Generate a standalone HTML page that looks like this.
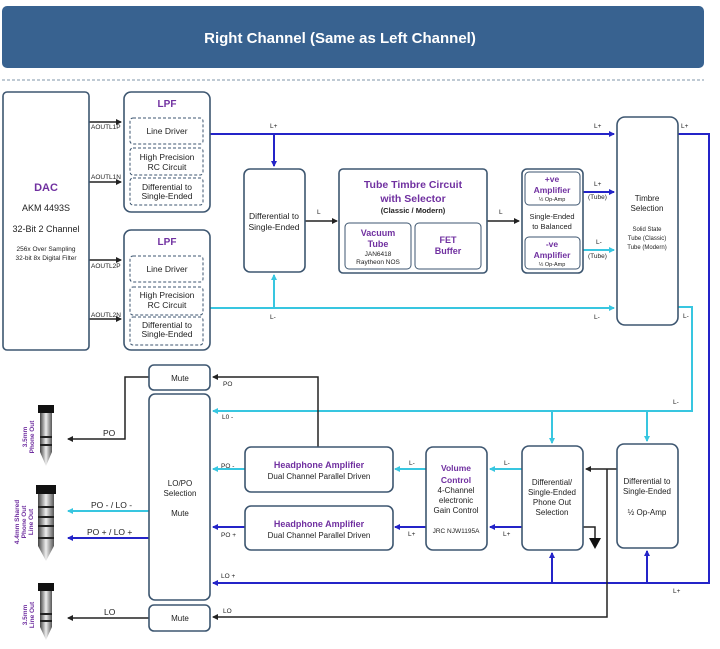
<!DOCTYPE html>
<html><head><meta charset="utf-8"><style>
html,body{margin:0;padding:0;background:#fff;width:720px;height:649px;overflow:hidden}
svg{display:block;font-family:"Liberation Sans",Arial,sans-serif}
.b{fill:#fff;stroke:#3d5670;stroke-width:1.6}
.d{fill:#fff;stroke:#3d5670;stroke-width:1;stroke-dasharray:3,2}
.p{fill:#7030a0;font-weight:bold}
text{fill:#222}
.bl{stroke:#2424c8;stroke-width:2;fill:none}
.cy{stroke:#38c6e0;stroke-width:2;fill:none}
.k{stroke:#222;stroke-width:1.5;fill:none}
</style></head><body>
<svg width="720" height="649" viewBox="0 0 720 649">
<defs>
<marker id="ab" markerWidth="6" markerHeight="6" refX="5" refY="3" orient="auto" markerUnits="userSpaceOnUse"><path d="M0,0 L6,3 L0,6z" fill="#2424c8"/></marker>
<marker id="ac" markerWidth="6" markerHeight="6" refX="5" refY="3" orient="auto" markerUnits="userSpaceOnUse"><path d="M0,0 L6,3 L0,6z" fill="#38c6e0"/></marker>
<marker id="ak" markerWidth="6" markerHeight="6" refX="5" refY="3" orient="auto" markerUnits="userSpaceOnUse"><path d="M0,0 L6,3 L0,6z" fill="#222"/></marker>
<linearGradient id="jg" x1="0" x2="1"><stop offset="0" stop-color="#444"/><stop offset="0.5" stop-color="#eee"/><stop offset="1" stop-color="#555"/></linearGradient>
</defs>
<!-- header -->
<rect x="2" y="6" width="702" height="62" rx="5" fill="#386290"/>
<text x="340" y="43" text-anchor="middle" font-size="15" font-weight="bold" style="fill:#fff">Right Channel (Same as Left Channel)</text>
<line x1="2" y1="80" x2="704" y2="80" stroke="#9ab" stroke-width="1.2" stroke-dasharray="3,2"/>

<!-- wires top -->
<path class="bl" d="M210,134 H614" marker-end="url(#ab)"/>
<path class="bl" d="M274,134 V166" marker-end="url(#ab)"/>
<path class="cy" d="M210,308 H614" marker-end="url(#ac)"/>
<path class="cy" d="M274,308 V275" marker-end="url(#ac)"/>
<path class="k" d="M305,221 H337" marker-end="url(#ak)"/>
<path class="k" d="M487,221 H519" marker-end="url(#ak)"/>
<path class="bl" d="M580,192 H614" marker-end="url(#ab)"/>
<path class="cy" d="M580,250 H614" marker-end="url(#ac)"/>
<path class="k" d="M89,122 H121" marker-end="url(#ak)"/>
<path class="k" d="M89,182 H121" marker-end="url(#ak)"/>
<path class="k" d="M89,260 H121" marker-end="url(#ak)"/>
<path class="k" d="M89,319 H121" marker-end="url(#ak)"/>
<!-- right loops -->
<path class="bl" d="M678,134 H709 V583 H213" marker-end="url(#ab)"/>
<path class="cy" d="M678,307 H692 V411 H213" marker-end="url(#ac)"/>
<path class="cy" d="M552,411 V443" marker-end="url(#ac)"/>
<path class="cy" d="M647,411 V441" marker-end="url(#ac)"/>
<path class="bl" d="M552,583 V553" marker-end="url(#ab)"/>
<path class="bl" d="M647,583 V551" marker-end="url(#ab)"/>
<!-- black right -->
<path class="k" d="M617,469 H586" marker-end="url(#ak)"/>
<path class="k" d="M607,469 V617 H213" marker-end="url(#ak)"/>
<path class="k" d="M583,527 H595 V538"/>
<path d="M589,538 L601,538 L595,549z" fill="#111"/>
<!-- mid arrows -->
<path class="cy" d="M522,469 H490" marker-end="url(#ac)"/>
<path class="bl" d="M522,527 H490" marker-end="url(#ab)"/>
<path class="cy" d="M426,469 H395" marker-end="url(#ac)"/>
<path class="bl" d="M426,527 H395" marker-end="url(#ab)"/>
<path class="cy" d="M245,469 H213" marker-end="url(#ac)"/>
<path class="bl" d="M245,527 H213" marker-end="url(#ab)"/>
<path class="k" d="M318,447 V377 H213" marker-end="url(#ak)"/>
<path class="k" d="M149,377 H125 V439 H68" marker-end="url(#ak)"/>
<path class="cy" d="M149,511 H68" marker-end="url(#ac)"/>
<path class="bl" d="M149,538 H68" marker-end="url(#ab)"/>
<path class="k" d="M149,618 H68" marker-end="url(#ak)"/>

<!-- DAC -->
<rect class="b" x="3" y="92" width="86" height="258" rx="4"/>
<text x="46" y="191" text-anchor="middle" font-size="11" class="p">DAC</text>
<text x="46" y="211" text-anchor="middle" font-size="9">AKM 4493S</text>
<text x="46" y="232" text-anchor="middle" font-size="9">32-Bit 2 Channel</text>
<text x="46" y="251" text-anchor="middle" font-size="6.5">256x Over Sampling</text>
<text x="46" y="260" text-anchor="middle" font-size="6.5">32-bit 8x Digital Filter</text>
<g font-size="6.5"><text x="91" y="129">AOUTL1P</text><text x="91" y="179">AOUTL1N</text><text x="91" y="268">AOUTL2P</text><text x="91" y="317">AOUTL2N</text></g>

<!-- LPFs -->
<g font-size="8.5" text-anchor="middle">
<rect class="b" x="124" y="92" width="86" height="120" rx="7"/>
<text x="167" y="107" class="p" font-size="10">LPF</text>
<rect class="d" x="130" y="118" width="73" height="26" rx="3"/><text x="167" y="134">Line Driver</text>
<rect class="d" x="130" y="148" width="73" height="27" rx="3"/><text x="167" y="160">High Precision</text><text x="167" y="170">RC Circuit</text>
<rect class="d" x="130" y="178" width="73" height="27" rx="3"/><text x="167" y="190">Differential to</text><text x="167" y="199">Single-Ended</text>
<rect class="b" x="124" y="230" width="86" height="120" rx="7"/>
<text x="167" y="245" class="p" font-size="10">LPF</text>
<rect class="d" x="130" y="256" width="73" height="26" rx="3"/><text x="167" y="272">Line Driver</text>
<rect class="d" x="130" y="287" width="73" height="28" rx="3"/><text x="167" y="298">High Precision</text><text x="167" y="308">RC Circuit</text>
<rect class="d" x="130" y="317" width="73" height="28" rx="3"/><text x="167" y="328">Differential to</text><text x="167" y="337">Single-Ended</text>

<rect class="b" x="244" y="169" width="61" height="103" rx="6"/>
<text x="274" y="219">Differential to</text><text x="274" y="230">Single-Ended</text>

<rect class="b" x="339" y="169" width="148" height="104" rx="4"/>
<text x="413" y="188" class="p" font-size="10.5">Tube Timbre Circuit</text>
<text x="413" y="202" class="p" font-size="10.5">with Selector</text>
<text x="413" y="213" font-size="7.5" font-weight="bold">(Classic / Modern)</text>
<rect class="b" x="345" y="223" width="66" height="46" rx="4" style="stroke-width:1"/>
<text x="378" y="236" class="p" font-size="9">Vacuum</text><text x="378" y="247" class="p" font-size="9">Tube</text>
<text x="378" y="256" font-size="6.5">JAN6418</text><text x="378" y="264" font-size="6.5">Raytheon NOS</text>
<rect class="b" x="415" y="223" width="66" height="46" rx="4" style="stroke-width:1"/>
<text x="448" y="243" class="p" font-size="9">FET</text><text x="448" y="254" class="p" font-size="9">Buffer</text>

<rect class="b" x="522" y="169" width="61" height="104" rx="5"/>
<rect class="b" x="525" y="172" width="55" height="33" rx="4" style="stroke-width:1"/>
<text x="552" y="182" class="p" font-size="8.5">+ve</text><text x="552" y="193" class="p" font-size="8.5">Amplifier</text><text x="552" y="201" font-size="5.5">½ Op-Amp</text>
<text x="552" y="219" font-size="7.5">Single-Ended</text><text x="552" y="229" font-size="7.5">to Balanced</text>
<rect class="b" x="525" y="237" width="55" height="32" rx="4" style="stroke-width:1"/>
<text x="552" y="247" class="p" font-size="8.5">-ve</text><text x="552" y="258" class="p" font-size="8.5">Amplifier</text><text x="552" y="266" font-size="5.5">½ Op-Amp</text>

<rect class="b" x="617" y="117" width="61" height="208" rx="8"/>
<text x="647" y="201" font-size="8">Timbre</text><text x="647" y="211" font-size="8">Selection</text>
<text x="647" y="231" font-size="6">Solid State</text><text x="647" y="240" font-size="6">Tube (Classic)</text><text x="647" y="249" font-size="6">Tube (Modern)</text>

<!-- lower -->
<rect class="b" x="617" y="444" width="61" height="104" rx="7"/>
<text x="647" y="484" font-size="8">Differential to</text><text x="647" y="494" font-size="8">Single-Ended</text>
<text x="647" y="515" font-size="8">½ Op-Amp</text>
<rect class="b" x="522" y="446" width="61" height="104" rx="7"/>
<text x="552" y="485" font-size="8">Differential/</text><text x="552" y="495" font-size="8">Single-Ended</text><text x="552" y="505" font-size="8">Phone Out</text><text x="552" y="515" font-size="8">Selection</text>
<rect class="b" x="426" y="447" width="61" height="103" rx="7"/>
<text x="456" y="471" class="p" font-size="8.5">Volume</text><text x="456" y="483" class="p" font-size="8.5">Control</text>
<text x="456" y="493" font-size="8">4-Channel</text><text x="456" y="503" font-size="8">electronic</text><text x="456" y="513" font-size="8">Gain Control</text>
<text x="456" y="533" font-size="6.5">JRC NJW1195A</text>
<rect class="b" x="245" y="447" width="148" height="45" rx="6"/>
<text x="319" y="468" class="p" font-size="9">Headphone Amplifier</text><text x="319" y="479" font-size="8">Dual Channel Parallel Driven</text>
<rect class="b" x="245" y="506" width="148" height="44" rx="6"/>
<text x="319" y="527" class="p" font-size="9">Headphone Amplifier</text><text x="319" y="538" font-size="8">Dual Channel Parallel Driven</text>

<rect class="b" x="149" y="394" width="61" height="206" rx="6"/>
<text x="180" y="486" font-size="8">LO/PO</text><text x="180" y="496" font-size="8">Selection</text><text x="180" y="516" font-size="8">Mute</text>
<rect class="b" x="149" y="365" width="61" height="25" rx="5"/><text x="180" y="381" font-size="8">Mute</text>
<rect class="b" x="149" y="605" width="61" height="26" rx="5"/><text x="180" y="621" font-size="8">Mute</text>
</g>

<!-- labels -->
<g font-size="6.5">
<text x="270" y="128">L+</text><text x="270" y="319">L-</text><text x="317" y="214">L</text><text x="499" y="214">L</text>
<text x="594" y="128">L+</text><text x="594" y="319">L-</text><text x="681" y="128">L+</text><text x="683" y="318">L-</text>
<text x="594" y="186">L+</text><text x="588" y="199">(Tube)</text><text x="596" y="244">L-</text><text x="588" y="258">(Tube)</text>
<text x="673" y="404">L-</text><text x="673" y="593">L+</text>
<text x="504" y="465">L-</text><text x="503" y="536">L+</text><text x="409" y="465">L-</text><text x="408" y="536">L+</text>
<text x="221" y="468">PO -</text><text x="221" y="537">PO +</text>
<text x="223" y="386">PO</text><text x="222" y="419">L0 -</text><text x="221" y="578">LO +</text><text x="223" y="613">LO</text>
</g>
<g font-size="8.5">
<text x="103" y="436">PO</text><text x="91" y="508">PO - / LO -</text><text x="87" y="535">PO + / LO +</text><text x="104" y="615">LO</text>
</g>

<!-- jacks -->
<g>
<rect x="38" y="405" width="16" height="8" fill="#111"/>
<path d="M40,413 H52 V452 L46,466 L40,452z" fill="url(#jg)"/>
<rect x="40" y="436" width="12" height="2" fill="#222"/><rect x="40" y="444" width="12" height="2" fill="#222"/>
<rect x="36" y="485" width="20" height="9" fill="#111"/>
<path d="M38,494 H54 V546 L46,561 L38,546z" fill="url(#jg)"/>
<rect x="38" y="506" width="16" height="2" fill="#222"/><rect x="38" y="516" width="16" height="2" fill="#222"/><rect x="38" y="525" width="16" height="2" fill="#222"/><rect x="38" y="537" width="16" height="2" fill="#222"/>
<rect x="38" y="583" width="16" height="8" fill="#111"/>
<path d="M40,591 H52 V627 L46,640 L40,627z" fill="url(#jg)"/>
<rect x="40" y="613" width="12" height="2" fill="#222"/><rect x="40" y="620" width="12" height="2" fill="#222"/>
</g>
<g font-size="6.5" font-weight="bold" text-anchor="middle" style="fill:#7030a0">
<text transform="translate(27,437) rotate(-90)" style="fill:#7030a0">3.5mm</text>
<text transform="translate(34,437) rotate(-90)" style="fill:#7030a0">Phone Out</text>
<text transform="translate(19,522) rotate(-90)" style="fill:#7030a0">4.4mm Shared</text>
<text transform="translate(26,522) rotate(-90)" style="fill:#7030a0">Phone Out</text>
<text transform="translate(33,522) rotate(-90)" style="fill:#7030a0">Line Out</text>
<text transform="translate(27,615) rotate(-90)" style="fill:#7030a0">3.5mm</text>
<text transform="translate(34,615) rotate(-90)" style="fill:#7030a0">Line Out</text>
</g>
</svg>
</body></html>
